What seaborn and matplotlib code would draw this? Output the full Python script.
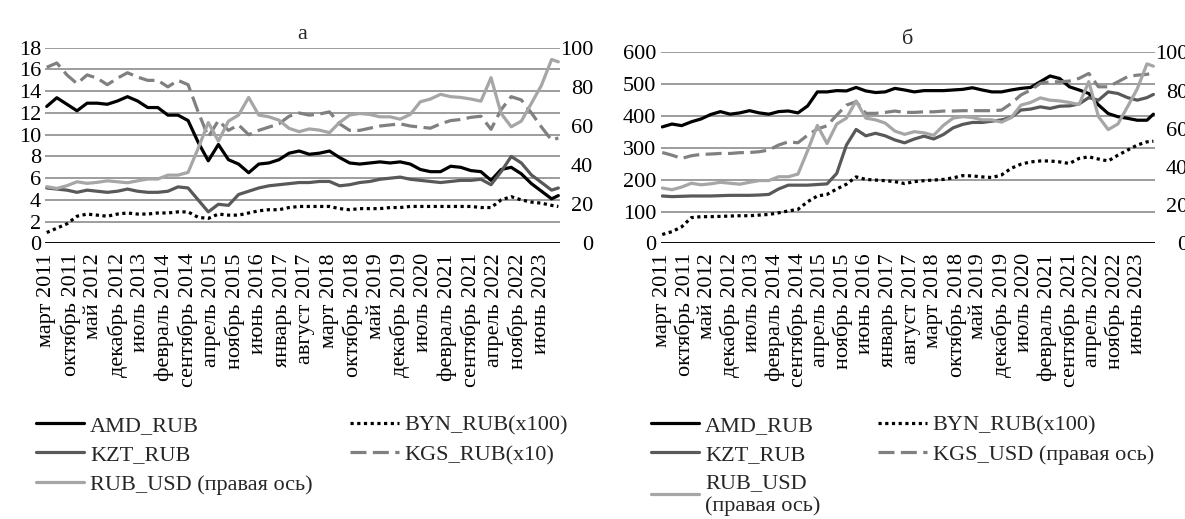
import matplotlib
matplotlib.use("Agg")
import matplotlib.pyplot as plt
import pandas as pd
import seaborn as sns

# месяцы от марта 2011 (0) до ноября 2023 (152), точки раз в квартал
month_idx = list(range(0, 151, 3)) + [152]

tick_labels = ["март 2011", "октябрь 2011", "май 2012", "декабрь 2012", "июль 2013",
               "февраль 2014", "сентябрь 2014", "апрель 2015", "ноябрь 2015", "июнь 2016",
               "январь 2017", "август 2017", "март 2018", "октябрь 2018", "май 2019",
               "декабрь 2019", "июль 2020", "февраль 2021", "сентябрь 2021", "апрель 2022",
               "ноябрь 2022", "июнь 2023"]

# --- панель а ---
amd_a = [12.6, 13.4, 12.8, 12.2, 12.9, 12.9, 12.8, 13.1, 13.5, 13.1, 12.5, 12.5, 11.8,
         11.8, 11.3, 9.3, 7.6, 9.1, 7.7, 7.3, 6.5, 7.3, 7.4, 7.7, 8.3, 8.5,
         8.2, 8.3, 8.5, 7.9, 7.4, 7.3, 7.4, 7.5, 7.4, 7.5, 7.3, 6.8, 6.6, 6.6, 7.1, 7.0,
         6.7, 6.6, 5.8, 6.8, 7.0, 6.4, 5.5, 4.8, 4.1, 4.4]
kzt_a = [5.1, 5.0, 4.9, 4.7, 4.9, 4.8, 4.7, 4.8, 5.0, 4.8, 4.7, 4.7, 4.8, 5.2, 5.1, 4.0,
         2.9, 3.6, 3.5, 4.5, 4.8, 5.1, 5.3, 5.4, 5.5, 5.6,
         5.6, 5.7, 5.7, 5.3, 5.4, 5.6, 5.7, 5.9, 6.0, 6.1, 5.9, 5.8, 5.7, 5.6, 5.7, 5.8,
         5.8, 5.9, 5.4, 6.6, 8.0, 7.4, 6.3, 5.6, 4.9, 5.1]
byn_a = [1.0, 1.4, 1.8, 2.5, 2.7, 2.6, 2.5, 2.7, 2.8, 2.7, 2.7, 2.8, 2.8, 2.9, 2.9, 2.4,
         2.3, 2.7, 2.6, 2.6, 2.8, 3.0, 3.1, 3.1, 3.3, 3.4,
         3.4, 3.4, 3.4, 3.2, 3.1, 3.2, 3.2, 3.2, 3.3, 3.3, 3.4, 3.4, 3.4, 3.4, 3.4, 3.4,
         3.4, 3.3, 3.3, 4.0, 4.3, 4.0, 3.8, 3.7, 3.5, 3.4]
kgs_a = [16.2, 16.6, 15.5, 14.7, 15.5, 15.2, 14.6, 15.2, 15.7, 15.3, 15.0, 15.0, 14.4,
         15.0, 14.6, 12.1, 9.8, 11.3, 10.4, 10.9, 10.0, 10.4, 10.7, 11.0, 11.7, 12.0,
         11.8, 11.9, 12.1, 11.0, 10.4, 10.4, 10.6, 10.8, 10.9, 11.0, 10.8, 10.7, 10.6,
         11.0, 11.3, 11.4, 11.6, 11.7, 10.5, 12.3, 13.5, 13.2, 12.0, 10.7, 9.5, 9.7]
rub_usd = [29.0, 28.1, 29.5, 31.5, 30.7, 31.2, 32.0, 31.5, 31.0, 32.0, 32.9, 32.9, 34.9,
           34.9, 36.3, 48.6, 61.8, 52.3, 62.5, 65.6, 74.6, 65.6, 64.7, 63.0, 58.8, 57.1,
           58.5, 57.9, 56.6, 61.8, 65.6, 66.4, 65.9, 64.7, 64.7, 63.5, 65.9, 72.4, 73.8,
           76.2, 75.0, 74.6, 73.8, 72.7, 84.7, 66.4, 59.6, 62.5, 71.6, 80.9, 94.0, 92.8]

# --- панель б ---
amd_b = [366, 375, 370, 382, 391, 405, 414, 406, 410, 417, 410, 406, 414, 416, 410, 432,
         476, 476, 480, 479, 490, 479, 474, 476, 487,
         482, 476, 480, 480, 480, 482, 484, 489, 482, 476, 476, 482, 487, 490, 508, 526,
         518, 492, 482, 471, 435, 408, 398, 393, 387, 387, 406]
kzt_b = [149, 147, 148, 149, 149, 149, 150, 151, 151, 151, 152, 154, 171, 183, 183, 183,
         185, 187, 220, 309, 358, 338, 346, 338, 325,
         316, 328, 337, 328, 342, 363, 374, 380, 380, 384, 388, 396, 419, 422, 429, 424,
         431, 432, 438, 458, 450, 476, 471, 458, 450, 458, 468]
byn_b = [28, 37, 52, 81, 84, 84, 85, 86, 87, 87, 89, 91, 96, 102, 107, 131, 149, 154, 171,
         186, 209, 201, 199, 197, 194,
         188, 194, 197, 199, 201, 206, 213, 212, 209, 207, 215, 236, 249, 256, 259, 259,
         256, 251, 267, 272, 265, 259, 277, 293, 309, 319, 321]
kgs_usd = [47.6, 46.2, 44.5, 45.9, 46.6, 46.8, 47.1, 47.1, 47.5, 47.6, 48.0, 48.9, 51.5,
           53.2, 52.7, 56.7, 59.9, 61.6, 67.2, 72.4, 74.2, 68.1, 68.1, 68.6, 69.3,
           68.6, 68.6, 68.9, 68.9, 69.3, 69.3, 69.5, 69.5, 69.5, 69.5, 69.8, 73.3, 77.7,
           80.3, 83.8, 84.6, 84.6, 85.0, 86.4, 89.0, 82.0, 82.0, 84.6, 87.3, 88.1, 88.5, 89.5]

sns.set_theme(style="white")
plt.rcParams['font.family'] = ['Liberation Serif', 'DejaVu Serif']
FS = 16

BLACK = "#000000"
DARK = "#595959"
LIGHT = "#a6a6a6"
MID = "#808080"
LW = 2.3
DOT = (0, (1, 1.1))
DASH = (0, (5, 2))

fig = plt.figure(figsize=(11.85, 5.19), dpi=100)
ax_a = fig.add_axes([0.038, 0.531, 0.4346, 0.377])
ax_b = fig.add_axes([0.5575, 0.531, 0.4172, 0.368])


def style_axes(ax, ax2, ylim, ystep, title):
    ax.set_xlim(-0.5, 152.5)
    ax.set_ylim(0, ylim)
    ax.set_yticks(range(0, ylim + 1, ystep))
    ax2.set_ylim(0, 100)
    ax2.set_yticks(range(0, 101, 20))
    ax.set_xticks(range(0, 148, 7))
    ax.set_xticklabels(tick_labels, rotation=90)
    for a in (ax, ax2):
        for s in a.spines.values():
            s.set_visible(False)
        a.tick_params(length=0, labelsize=FS, colors="black")
        a.grid(False)
    ax.tick_params(axis="y", pad=3)
    ax.tick_params(axis="x", pad=7)
    # подписи правой оси выровнены по правому краю
    ax2.tick_params(axis="y", pad=24)
    for t in ax2.get_yticklabels():
        t.set_horizontalalignment("right")
    ax.yaxis.grid(True, color="#8c8c8c", linewidth=1.2)
    ax.axhline(0, color="black", linewidth=1.3, zorder=1)
    ax.set_axisbelow(True)
    ax.set_xlabel("")
    ax.set_ylabel("")
    ax2.set_ylabel("")
    ax.set_title(title, fontsize=FS, pad=6)


def line(ax, y, color, label, ls="-"):
    sns.lineplot(x=month_idx, y=y, ax=ax, color=color, linewidth=LW, linestyle=ls,
                 label=label, legend=False)


# панель а
ax_a2 = ax_a.twinx()
line(ax_a, amd_a, BLACK, "AMD_RUB")
line(ax_a, kzt_a, DARK, "KZT_RUB")
line(ax_a, byn_a, BLACK, "BYN_RUB(x100)", DOT)
line(ax_a, kgs_a, MID, "KGS_RUB(x10)", DASH)
line(ax_a2, rub_usd, LIGHT, "RUB_USD (правая ось)")
style_axes(ax_a, ax_a2, 18, 2, "а")

h1, l1 = ax_a.get_legend_handles_labels()
h2, l2 = ax_a2.get_legend_handles_labels()
hd = dict(zip(l1 + l2, h1 + h2))
order = ["AMD_RUB", "KZT_RUB", "RUB_USD (правая ось)", "BYN_RUB(x100)", "KGS_RUB(x10)"]
fig.legend([hd[k] for k in order], order, loc="upper left", bbox_to_anchor=(0.030, 0.2),
           ncol=2, frameon=False, fontsize=FS, handlelength=2.2, handletextpad=0.25,
           columnspacing=1.7, labelspacing=0.4, borderaxespad=0, borderpad=0)

# панель б
ax_b2 = ax_b.twinx()
line(ax_b, amd_b, BLACK, "AMD_RUB")
line(ax_b, kzt_b, DARK, "KZT_RUB")
line(ax_b, byn_b, BLACK, "BYN_RUB(x100)", DOT)
line(ax_b2, kgs_usd, MID, "KGS_USD (правая ось)", DASH)
line(ax_b2, rub_usd, LIGHT, "RUB_USD\n(правая ось)")
style_axes(ax_b, ax_b2, 600, 100, "б")

h1, l1 = ax_b.get_legend_handles_labels()
h2, l2 = ax_b2.get_legend_handles_labels()
hd = dict(zip(l1 + l2, h1 + h2))
order = ["AMD_RUB", "KZT_RUB", "RUB_USD\n(правая ось)", "BYN_RUB(x100)", "KGS_USD (правая ось)"]
fig.legend([hd[k] for k in order], order, loc="upper left", bbox_to_anchor=(0.549, 0.2),
           ncol=2, frameon=False, fontsize=FS, handlelength=2.2, handletextpad=0.25,
           columnspacing=2.6, labelspacing=0.4, borderaxespad=0, borderpad=0)

fig.savefig("out.png", dpi=100, facecolor="white")
